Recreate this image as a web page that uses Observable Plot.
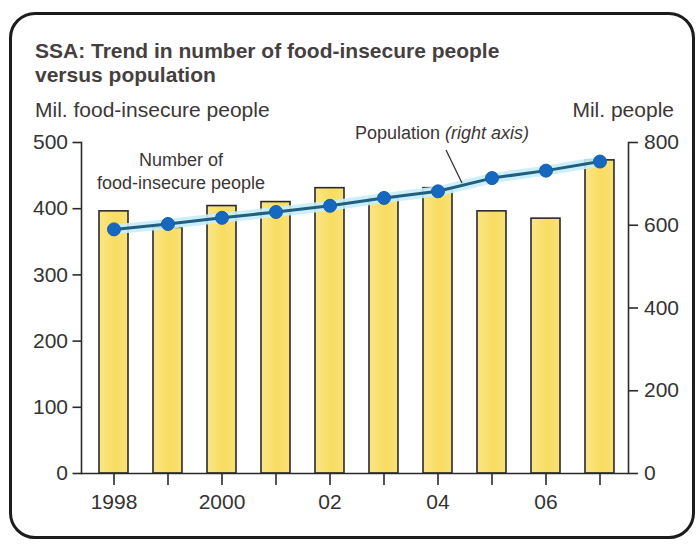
<!DOCTYPE html>
<html>
<head>
<meta charset="utf-8">
<script src="https://cdn.jsdelivr.net/npm/d3@7"></script>
<script src="https://cdn.jsdelivr.net/npm/@observablehq/plot@0.6"></script>
<style>
  html, body { margin: 0; padding: 0; background: #fff; }
  #wrap { position: relative; width: 698px; height: 544px; overflow: hidden; font-family: "Liberation Sans", Arial, sans-serif; color: #3d3636; }
  #box { position: absolute; left: 9px; top: 12px; width: 686px; height: 527px; box-sizing: border-box; border: 3px solid #1c1c1c; border-radius: 26px; }
  .t { position: absolute; white-space: nowrap; }
  #title { left: 35px; top: 39px; font-size: 21px; font-weight: bold; line-height: 23.5px; color: #463f3f; }
  #lsub { left: 35px; top: 98px; font-size: 21px; line-height: 23.5px; }
  #rsub { right: 24px; top: 98px; font-size: 21px; line-height: 23.5px; }
  #ann1 { left: 81px; width: 200px; text-align: center; top: 149px; font-size: 18px; line-height: 23.3px; }
  #ann2 { left: 355px; top: 121.5px; font-size: 18px; line-height: 23.3px; }
  #chart { position: absolute; left: 0; top: 0; }
  #leader { position: absolute; left: 0; top: 0; }
</style>
</head>
<body>
<div id="wrap">
  <div id="box"></div>
  <div id="chart"></div>
  <div class="t" id="title">SSA: Trend in number of food-insecure people<br>versus population</div>
  <div class="t" id="lsub">Mil. food-insecure people</div>
  <div class="t" id="rsub">Mil. people</div>
  <div class="t" id="ann1">Number of<br>food-insecure people</div>
  <div class="t" id="ann2">Population <i>(right axis)</i></div>
  <svg id="leader" width="698" height="544"><line x1="446" y1="150" x2="462" y2="183" stroke="#333" stroke-width="1.3"/></svg>
</div>
<script>
// Data
const years = [1998, 1999, 2000, 2001, 2002, 2003, 2004, 2005, 2006, 2007];
const foodInsecure = [396, 371, 404, 410, 431, 415, 431, 396, 385, 473]; // million people (left axis)
const population = [590, 603, 618, 632, 647, 666, 682, 714, 732, 754];   // million people (right axis)
const leftTicks = [0, 100, 200, 300, 400, 500];
const rightTicks = [0, 200, 400, 600, 800];
const xLabels = {1998: "1998", 2000: "2000", 2002: "02", 2004: "04", 2006: "06"};

const leftMax = 500, rightMax = 800;
const k = leftMax / rightMax; // maps right-axis values onto the left scale

const data = years.map((y, i) => ({year: y, food: foodInsecure[i], pop: population[i] * k}));

const chart = Plot.plot({
  width: 698,
  height: 544,
  marginLeft: 81,
  marginRight: 70,
  marginTop: 142,
  marginBottom: 71,
  style: {fontFamily: "Liberation Sans, Arial, sans-serif", fontSize: "21px", color: "#333", background: "transparent", overflow: "visible"},
  x: {type: "band", domain: years, paddingInner: 0.46, paddingOuter: 0.225, align: 0.55, label: null},
  y: {domain: [0, leftMax], label: null},
  marks: [
    Plot.barY(data, {x: "year", y: "food", fill: "url(#barGrad)", stroke: "#2a2a2a", strokeWidth: 1.6}),
    Plot.ruleY([0], {stroke: "#2a2a2a", strokeWidth: 1.6}),
    Plot.frame({anchor: "left", stroke: "#2a2a2a", strokeWidth: 1.6}),
    Plot.frame({anchor: "right", stroke: "#2a2a2a", strokeWidth: 1.6}),
    Plot.line(data, {x: "year", y: "pop", stroke: "#c6eefa", strokeWidth: 10, strokeOpacity: 0.9}),
    Plot.line(data, {x: "year", y: "pop", stroke: "#215e80", strokeWidth: 3}),
    Plot.dot(data, {x: "year", y: "pop", r: 6.5, fill: "#1667c0", stroke: "#1a5fa8", strokeWidth: 1}),
    Plot.axisY(leftTicks, {anchor: "left", tickSize: 8.5, tickPadding: 5, stroke: "#2a2a2a", strokeWidth: 1.6, label: null}),
    Plot.axisY(rightTicks.map(v => v * k), {anchor: "right", tickSize: 9, tickPadding: 6.5, stroke: "#2a2a2a", strokeWidth: 1.6, tickFormat: d => String(Math.round(d / k)), label: null}),
    Plot.axisX(years, {anchor: "bottom", tickSize: 12, tickPadding: 9, stroke: "#2a2a2a", strokeWidth: 1.6, tickFormat: d => xLabels[d] ?? "", label: null})
  ]
});

const svg = d3.select(chart);
svg.insert("defs", ":first-child").html(
  '<linearGradient id="barGrad" x1="0" x2="1" y1="0" y2="0">' +
  '<stop offset="0" stop-color="#fae686"/>' +
  '<stop offset="0.55" stop-color="#f8dc62"/>' +
  '<stop offset="1" stop-color="#f9e274"/>' +
  '</linearGradient>'
);
document.getElementById("chart").appendChild(chart);
</script>
</body>
</html>
